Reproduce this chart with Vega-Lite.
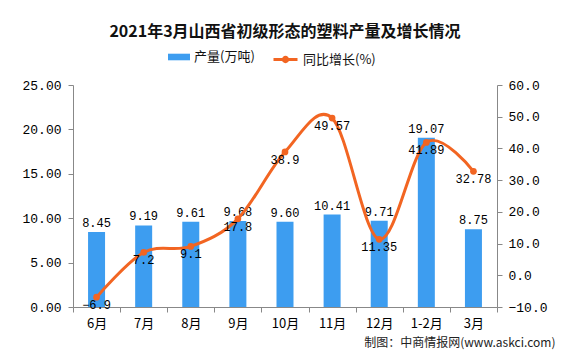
{
  "$schema": "https://vega.github.io/schema/vega-lite/v6.json",
  "width": 424,
  "height": 222,
  "autosize": {"type": "none"},
  "padding": {"left": 73, "top": 85, "right": 82, "bottom": 53},
  "background": "white",
  "title": {
    "text": "2021年3月山西省初级形态的塑料产量及增长情况",
    "font": "Noto Sans CJK SC",
    "fontSize": 16,
    "fontWeight": "bold",
    "color": "#111111",
    "anchor": "middle",
    "offset": 6
  },
  "data": {
    "values": [
      {"month": "6月", "output": 8.45, "growth": -6.9},
      {"month": "7月", "output": 9.19, "growth": 7.2},
      {"month": "8月", "output": 9.61, "growth": 9.1},
      {"month": "9月", "output": 9.68, "growth": 17.8},
      {"month": "10月", "output": 9.60, "growth": 38.9},
      {"month": "11月", "output": 10.41, "growth": 49.57},
      {"month": "12月", "output": 9.71, "growth": 11.35},
      {"month": "1-2月", "output": 19.07, "growth": 41.89},
      {"month": "3月", "output": 8.75, "growth": 32.78}
    ]
  },
  "encoding": {
    "x": {
      "field": "month",
      "type": "nominal",
      "sort": null,
      "scale": {"paddingInner": 0, "paddingOuter": 0},
      "axis": {
        "labelAngle": 0,
        "labelFont": "Noto Sans CJK SC",
        "labelFontSize": 13,
        "labelColor": "#000000",
        "labelPadding": 5,
        "domainColor": "#888888",
        "tickColor": "#888888",
        "tickBand": "extent",
        "tickSize": 5,
        "title": "制图：中商情报网(www.askci.com)",
        "titleFont": "Noto Sans CJK SC",
        "titleFontSize": 12,
        "titleFontWeight": "normal",
        "titleColor": "#222222",
        "titleAlign": "right",
        "titleBaseline": "middle",
        "titleX": 482,
        "titleY": 35
      }
    }
  },
  "layer": [
    {
      "encoding": {
        "y": {
          "field": "output",
          "type": "quantitative",
          "scale": {"domain": [0, 25], "nice": false, "zero": true},
          "axis": {
            "orient": "left",
            "values": [0, 5, 10, 15, 20, 25],
            "format": ".2f",
            "grid": false,
            "title": null,
            "domainColor": "#888888",
            "tickColor": "#888888",
            "tickSize": 5,
            "labelPadding": 7,
            "labelFont": "Liberation Mono",
            "labelFontSize": 13,
            "labelColor": "#000000"
          }
        }
      },
      "layer": [
        {
          "mark": {"type": "bar", "size": 17},
          "encoding": {
            "fill": {
              "datum": "产量(万吨)",
              "scale": {"range": ["#3d9df0"]},
              "legend": {
                "orient": "none",
                "legendX": 95,
                "legendY": -39,
                "title": null,
                "symbolType": "M-1,-0.3H1V0.3H-1Z",
                "symbolSize": 484,
                "symbolStrokeWidth": 0,
                "labelFont": "Noto Sans CJK SC",
                "labelFontSize": 13,
                "labelColor": "#111111"
              }
            }
          }
        },
        {
          "mark": {"type": "text", "baseline": "bottom", "dy": -2, "font": "Liberation Mono", "fontSize": 12, "color": "#000000"},
          "encoding": {
            "text": {"field": "output", "type": "quantitative", "format": ".2f"}
          }
        }
      ]
    },
    {
      "encoding": {
        "y": {
          "field": "growth",
          "type": "quantitative",
          "scale": {"domain": [-10, 60], "nice": false, "zero": false},
          "axis": {
            "orient": "right",
            "values": [-10, 0, 10, 20, 30, 40, 50, 60],
            "format": ".1f",
            "grid": false,
            "title": null,
            "domainColor": "#888888",
            "tickColor": "#888888",
            "tickSize": 5,
            "labelPadding": 6,
            "labelFont": "Liberation Mono",
            "labelFontSize": 13,
            "labelColor": "#000000"
          }
        }
      },
      "layer": [
        {
          "mark": {"type": "line", "interpolate": "cardinal", "strokeWidth": 3},
          "encoding": {
            "stroke": {
              "datum": "同比增长(%)",
              "scale": {"range": ["#f26522"]},
              "legend": {
                "orient": "none",
                "legendX": 199,
                "legendY": -39,
                "title": null,
                "symbolType": "M-1,0H1M0.18,0A0.18,0.18 0 1,1 -0.18,0A0.18,0.18 0 1,1 0.18,0",
                "symbolSize": 576,
                "symbolStrokeWidth": 3,
                "labelFont": "Noto Sans CJK SC",
                "labelFontSize": 13,
                "labelColor": "#111111"
              }
            }
          }
        },
        {
          "mark": {"type": "point", "filled": true, "size": 45, "color": "#f26522", "opacity": 1},
          "encoding": {}
        },
        {
          "mark": {"type": "text", "baseline": "top", "dy": 3, "font": "Liberation Mono", "fontSize": 12, "color": "#000000"},
          "encoding": {
            "text": {"field": "growth", "type": "quantitative"}
          }
        }
      ]
    }
  ],
  "resolve": {"scale": {"y": "independent"}},
  "config": {"view": {"stroke": null}}
}
